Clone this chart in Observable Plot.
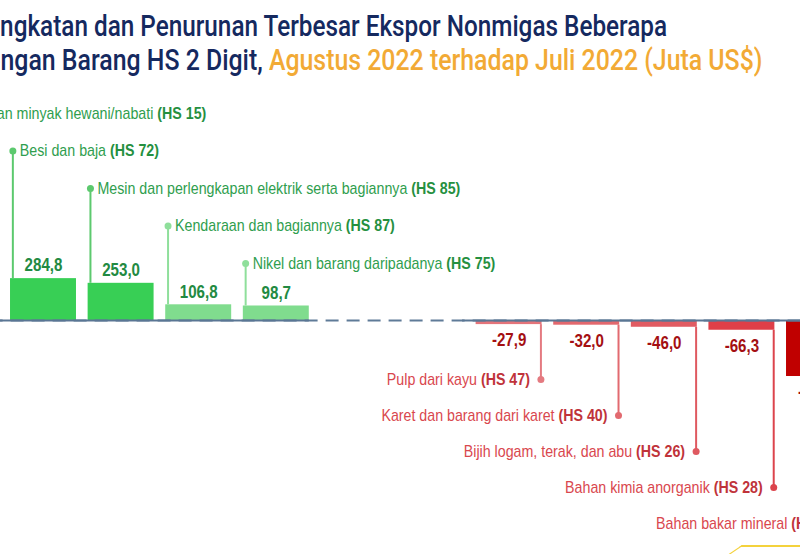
<!DOCTYPE html>
<html>
<head>
<meta charset="utf-8">
<script src="https://cdn.jsdelivr.net/npm/d3@7"></script>
<script src="https://cdn.jsdelivr.net/npm/@observablehq/plot@0.6"></script>
<style>
  html, body { margin: 0; padding: 0; background: #fff; width: 800px; height: 554px; overflow: hidden; position: relative; }
  #title { position: relative; height: 90px; width: 800px; overflow: hidden; font-family: Roboto, "Noto Sans", sans-serif; font-weight: 500; font-size: 29px; color: #15295f; }
  .tline { position: absolute; white-space: nowrap; transform-origin: 0 0; line-height: 1; }
  .orange { color: #f2aa35; }
  #chart { position: absolute; left: 0; top: 90px; width: 800px; height: 464px; overflow: hidden; }
  #deco { position: absolute; left: 742px; top: 545px; width: 90px; height: 30px; border-top: 2.5px solid #f4d23c; border-left: 2.5px solid #f4d23c; transform-origin: 0 0; transform: skewX(-56deg); }
</style>
</head>
<body>
<div id="title">
  <div class="tline" id="t1" style="top:12px"><span class="hid">Peni</span>ngkatan dan Penurunan Terbesar Ekspor Nonmigas Beberapa</div>
  <div class="tline" id="t2" style="top:46px"><span class="hid">Golo</span>ngan Barang HS 2 Digit, <span class="orange">Agustus 2022 terhadap Juli 2022 (Juta US$)</span></div>
</div>
<div id="chart"></div>
<div id="deco"></div>
<script>
// ---- data ----
const categories = [
  "Lemak dan minyak hewani/nabati",
  "Besi dan baja",
  "Mesin dan perlengkapan elektrik serta bagiannya",
  "Kendaraan dan bagiannya",
  "Nikel dan barang daripadanya",
  "Pulp dari kayu",
  "Karet dan barang dari karet",
  "Bijih logam, terak, dan abu",
  "Bahan kimia anorganik",
  "Bahan bakar mineral"
];
const hsCodes = ["HS 15", "HS 72", "HS 85", "HS 87", "HS 75", "HS 47", "HS 40", "HS 26", "HS 28", "HS 27"];
const changes = [1180.0, 284.8, 253.0, 106.8, 98.7, -27.9, -32.0, -46.0, -66.3, -381.0];

// ---- styles ----
const barColors = ["#38cf55", "#38cf55", "#38cf55", "#80dc8e", "#80dc8e", "#e4747a", "#e3686e", "#e15b62", "#df3f48", "#c00000"];
const lineColors = ["#5cc96e", "#5cc96e", "#5cc96e", "#8fdf9b", "#8fdf9b", "#e47a80", "#e26a70", "#df5960", "#dc444c", "#d02a30"];

// ---- layout constants ----
const W = 800, H = 464;
const zeroPx = 230;          // pixel row of the zero line
const pxPerUnit = 0.147;     // vertical pixels per million US$
const slotPx = 77.6;         // horizontal distance between bars
const firstVisibleCenter = 43; // centre of 2nd bar
const gapSlots = 2;          // empty slots between increases and decreases
const halfBar = 0.425;
const posTop = 23, posStep = 37.5;   // label rows for increases (px)
const negTop = 289, negStep = 36;    // label rows for decreases (px)
const narrowLabel = 0.89, narrowValue = 0.84; // horizontal condensing of chart texts
const pxToVal = px => (zeroPx - px) / pxPerUnit;

const fmt = v => d3.format(".1f")(v).replace(".", ",").replace("−", "-");

let posIdx = 0, negIdx = 0;
const data = categories.map((name, i) => {
  const value = changes[i];
  const pos = value >= 0;
  const k = pos ? posIdx++ : negIdx++;
  const slot = pos ? i : i + gapSlots;
  return {
    name, hs: hsCodes[i], value, pos, slot,
    barColor: barColors[i], lineColor: lineColors[i],
    lineX: pos ? slot - halfBar + 0.03 : slot + halfBar - 0.015,
    labelY: pxToVal(pos ? posTop + k * posStep : negTop + k * negStep)
  };
});
const posData = data.filter(d => d.pos);
const negData = data.filter(d => !d.pos);
const lastSlot = d3.max(data, d => d.slot);
const lastPos = d3.max(posData, d => d.slot);
const firstNeg = d3.min(negData, d => d.slot);

const labelFont = '"Liberation Sans", Arial, Roboto, sans-serif';

const x0 = firstVisibleCenter - slotPx;
const plot = Plot.plot({
  width: W, height: H,
  marginLeft: 0, marginRight: 0, marginTop: 0, marginBottom: 0,
  x: {domain: [0, lastSlot], range: [x0, x0 + lastSlot * slotPx], axis: null},
  y: {domain: [-1, 1], range: [zeroPx + pxPerUnit, zeroPx - pxPerUnit], axis: null},
  style: {fontFamily: labelFont, overflow: "hidden", background: "white"},
  marks: [
    Plot.rectY(data, {x1: d => d.slot - halfBar, x2: d => d.slot + halfBar, y: "value", fill: "barColor"}),
    Plot.ruleY([0], {x1: -0.5, x2: lastSlot + 0.6, stroke: "#5f7b98", strokeWidth: 2, strokeDasharray: "13,8"}),
    Plot.ruleY([{a: -0.5, b: lastPos + halfBar}, {a: firstNeg - 0.6, b: lastSlot + 0.6}], {x1: "a", x2: "b", y: 0, stroke: "#5a7694", strokeWidth: 2}),
    Plot.ruleX(data, {x: "lineX", y1: "value", y2: "labelY", stroke: "lineColor", strokeWidth: 2}),
    Plot.dot(data, {x: "lineX", y: "labelY", r: 3.5, fill: "lineColor", stroke: null}),
    Plot.text(posData, {x: "lineX", y: "labelY", text: d => `${d.name} (${d.hs})`, textAnchor: "start", dx: 7, fill: "#2f9e4e", fontSize: 16, lineAnchor: "middle"}),
    Plot.text(negData, {x: "lineX", y: "labelY", text: d => `${d.name} (${d.hs})`, textAnchor: "end", dx: -11, fill: "#d9474e", fontSize: 16, lineAnchor: "middle"}),
    Plot.text(posData, {x: "slot", y: "value", text: d => fmt(d.value), dy: -13, fill: "#228a42", fontWeight: "bold", fontSize: 18, lineAnchor: "middle"}),
    Plot.text(negData, {x: "slot", y: "value", text: d => fmt(d.value), dy: 16, fill: "#a40f12", fontWeight: "bold", fontSize: 18, lineAnchor: "middle"})
  ]
});

d3.select(plot).selectAll("text").each(function () {
  // bold the "(HS nn)" part of each category label
  const t = this.textContent;
  const m = t.match(/^(.*\S)\s+(\(HS \d+\))$/);
  if (m) {
    const fill = this.getAttribute("fill") || (this.parentNode && this.parentNode.getAttribute("fill"));
    const boldFill = fill === "#2f9e4e" ? "#25903f" : "#c0333a";
    const sel = d3.select(this);
    sel.text(null);
    sel.append("tspan").text(m[1] + " ");
    sel.append("tspan").attr("font-weight", "bold").attr("fill", boldFill).text(m[2]);
  }
  const s = m ? narrowLabel : narrowValue;
  // condense horizontally around the anchor point (Arial Narrow look)
  const tr = this.getAttribute("transform");
  if (tr && /translate/.test(tr)) {
    this.setAttribute("transform", tr + ` scale(${s},1)`);
  } else {
    const x = +this.getAttribute("x") || 0, y = +this.getAttribute("y") || 0;
    this.removeAttribute("x"); this.removeAttribute("y");
    this.setAttribute("transform", `${tr || ""} translate(${x},${y}) scale(${s},1)`);
  }
});

document.getElementById("chart").appendChild(plot);

// title: condense and shift so the hidden prefix sits left of the page edge
function placeTitle() {
  const targets = {t1: 667, t2: 762}; // visible widths of the two lines
  Object.entries(targets).forEach(([id, target]) => {
    const t = document.getElementById(id);
    t.style.left = "0px";
    t.style.transform = "none";
    const full = t.getBoundingClientRect().width;
    const pre = t.querySelector(".hid").getBoundingClientRect().width;
    const sx = target / (full - pre);
    t.style.transform = `scaleX(${sx})`;
    const h = t.querySelector(".hid").getBoundingClientRect();
    const r = t.getBoundingClientRect();
    t.style.left = (-(h.right - r.left)) + "px";
  });
}
placeTitle();
</script>
</body>
</html>
